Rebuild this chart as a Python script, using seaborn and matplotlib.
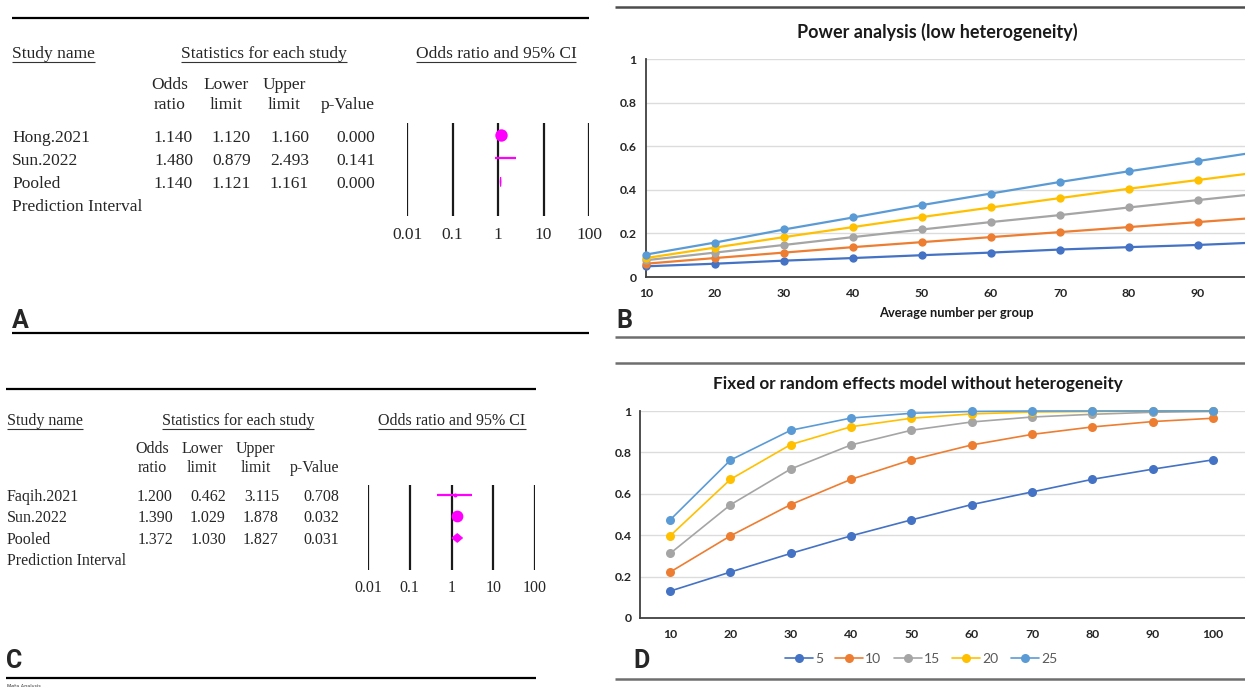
import numpy as np
import pandas as pd
import matplotlib
matplotlib.use("Agg")
import matplotlib.pyplot as plt
from matplotlib.lines import Line2D
import seaborn as sns

# ---------------- data ----------------
a_studies = ["Hong.2021", "Sun.2022", "Pooled"]
a_or = [1.140, 1.480, 1.140]
a_lower = [1.120, 0.879, 1.121]
a_upper = [1.160, 2.493, 1.161]
a_p = [0.000, 0.141, 0.000]
a_weight = [99.7, 0.3]

c_studies = ["Faqih.2021", "Sun.2022", "Pooled"]
c_or = [1.200, 1.390, 1.372]
c_lower = [0.462, 1.029, 1.030]
c_upper = [3.115, 1.878, 1.827]
c_p = [0.708, 0.032, 0.031]
c_weight = [10.4, 89.6]

forest_ticks = [0.01, 0.1, 1, 10, 100]
forest_tick_labels = ["0.01", "0.1", "1", "10", "100"]

n_per_group = [10, 20, 30, 40, 50, 60, 70, 80, 90, 100]
b_visible_ticks = [10, 20, 30, 40, 50, 60, 70, 80, 90]
series_labels = ["5", "10", "15", "20", "25"]

b_power_5 = [0.049, 0.061, 0.075, 0.087, 0.100, 0.112, 0.126, 0.137, 0.147, 0.160]
b_power_10 = [0.061, 0.087, 0.112, 0.137, 0.160, 0.183, 0.206, 0.229, 0.252, 0.275]
b_power_15 = [0.077, 0.112, 0.147, 0.183, 0.218, 0.252, 0.284, 0.319, 0.353, 0.386]
b_power_20 = [0.087, 0.135, 0.183, 0.229, 0.275, 0.319, 0.362, 0.405, 0.445, 0.485]
b_power_25 = [0.103, 0.158, 0.218, 0.273, 0.330, 0.383, 0.436, 0.485, 0.532, 0.580]

d_power_5 = [0.130, 0.222, 0.312, 0.397, 0.474, 0.548, 0.609, 0.670, 0.719, 0.764]
d_power_10 = [0.222, 0.397, 0.548, 0.670, 0.764, 0.836, 0.887, 0.923, 0.949, 0.965]
d_power_15 = [0.312, 0.547, 0.720, 0.836, 0.907, 0.947, 0.971, 0.984, 0.994, 0.998]
d_power_20 = [0.397, 0.670, 0.838, 0.924, 0.965, 0.986, 0.995, 0.998, 1.000, 1.000]
d_power_25 = [0.474, 0.763, 0.907, 0.966, 0.989, 0.998, 1.000, 1.000, 1.000, 1.000]

y_ticks = [0, 0.2, 0.4, 0.6, 0.8, 1]
y_tick_labels = ["0", "0.2", "0.4", "0.6", "0.8", "1"]

title_b = "Power analysis (low heterogeneity)"
xlabel_b = "Average number per group"
title_d = "Fixed or random effects model without heterogeneity"

# ---------------- setup ----------------
sns.set_style("white")
W, H = 1245, 687
fig = plt.figure(figsize=(W / 100, H / 100), dpi=100)
fig.patch.set_facecolor("white")

SERIF = "Liberation Serif"
CAL = "Lato"
LET = "Roboto"
colors = ["#4472C4", "#ED7D31", "#A5A5A5", "#FFC000", "#5B9BD5"]
palette = dict(zip(series_labels, colors))
MAG = "#FF00FF"


def fx(x):
    return x / W


def fy(y):
    return 1 - y / H


def axes_px(x0, y0, x1, y1):
    return fig.add_axes([x0 / W, 1 - y1 / H, (x1 - x0) / W, (y1 - y0) / H])


def hline(x0, x1, y, color="black", lw=1.6):
    fig.add_artist(Line2D([fx(x0), fx(x1)], [fy(y), fy(y)], transform=fig.transFigure,
                          color=color, lw=lw, solid_capstyle="butt"))


def txt(x, y, s, **kw):
    kw.setdefault("va", "baseline")
    return fig.text(fx(x), fy(y), s, **kw)


underline_jobs = []


# ---------------- forest panels ----------------
def forest_panel(studies, ors, lows, highs, ps, weights, fs, cfg):
    for key, ha in (("study", "left"), ("stats", "center"), ("ci", "center")):
        x, label = cfg[key]
        t = txt(x, cfg["hdr_y"], label, ha=ha, fontsize=fs, family=SERIF)
        underline_jobs.append((t, cfg["hdr_y"] + 3.5))
    cols = cfg["cols"]
    txt(cols[0][0], cfg["h1_y"], "Odds", ha="center", fontsize=fs, family=SERIF)
    txt(cols[0][0], cfg["h2_y"], "ratio", ha="center", fontsize=fs, family=SERIF)
    txt(cols[1][0], cfg["h1_y"], "Lower", ha="center", fontsize=fs, family=SERIF)
    txt(cols[1][0], cfg["h2_y"], "limit", ha="center", fontsize=fs, family=SERIF)
    txt(cols[2][0], cfg["h1_y"], "Upper", ha="center", fontsize=fs, family=SERIF)
    txt(cols[2][0], cfg["h2_y"], "limit", ha="center", fontsize=fs, family=SERIF)
    txt(cols[3][1], cfg["h2_y"], "p-Value", ha="right", fontsize=fs, family=SERIF)
    row_labels = studies + ["Prediction Interval"]
    for i, lab in enumerate(row_labels):
        yb = cfg["row_y"][i]
        txt(cfg["study"][0], yb, lab, ha="left", fontsize=fs, family=SERIF)
        if i < len(studies):
            vals = [ors[i], lows[i], highs[i], ps[i]]
            for (cx, rx), v in zip(cols, vals):
                txt(rx, yb, f"{v:.3f}", ha="right", fontsize=fs, family=SERIF)
    x0, x1, y0, y1 = cfg["plot"]
    ax = axes_px(x0, y0, x1, y1)
    ax.set_xscale("log")
    ax.set_xlim(forest_ticks[0], forest_ticks[-1])
    top, bot = cfg["ylim"]
    ax.set_ylim(bot, top)
    ax.vlines(forest_ticks, bot, top, color="#1a1a1a", lw=1.6)
    ax.axis("off")
    for i in range(len(studies)):
        if studies[i] == "Pooled":
            h = cfg["diamond_h"]
            ax.fill([lows[i], ors[i], highs[i], ors[i]], [i, i - h, i, i + h],
                    color=MAG, lw=0.8, ec=MAG, zorder=3)
        else:
            ax.plot([lows[i], highs[i]], [i, i], color=MAG, lw=1.6, zorder=3,
                    solid_capstyle="butt")
            ax.scatter([ors[i]], [i], s=weights[i] * cfg["msize"], color=MAG,
                       marker="o", lw=0, zorder=4)
    for tv, tl in zip(forest_ticks, forest_tick_labels):
        xpix = x0 + (np.log10(tv) + 2) / 4 * (x1 - x0)
        txt(xpix, cfg["tick_y"], tl, ha="center", fontsize=fs, family=SERIF)
    return ax


cfg_a = dict(
    study=(12, "Study name"), stats=(264, "Statistics for each study"),
    ci=(496, "Odds ratio and 95% CI"), hdr_y=58, h1_y=89, h2_y=109,
    cols=[(170, 193), (226, 251), (284, 309), (347, 375)],
    row_y=[142, 165, 188, 211], plot=(407, 589, 123, 216),
    ylim=(-0.515, 3.47), diamond_h=0.2, msize=0.8, tick_y=239)
forest_panel(a_studies, a_or, a_lower, a_upper, a_p, a_weight, 12.5, cfg_a)

cfg_c = dict(
    study=(7, "Study name"), stats=(238, "Statistics for each study"),
    ci=(452, "Odds ratio and 95% CI"), hdr_y=425, h1_y=453, h2_y=472,
    cols=[(152, 173), (202, 226), (256, 279), (315, 339)],
    row_y=[501, 522, 544, 565], plot=(368, 535, 485, 570),
    ylim=(-0.465, 3.49), diamond_h=0.2, msize=0.8, tick_y=592)
forest_panel(c_studies, c_or, c_lower, c_upper, c_p, c_weight, 11.5, cfg_c)

hline(12, 589, 18)
hline(12, 589, 333)
hline(6, 536, 389)
hline(6, 536, 678)
txt(7, 688, "Meta Analysis", ha="left", fontsize=3.5, family="DejaVu Sans", color="#333333")


# ---------------- power panels ----------------
def long_df(series):
    rows = []
    for lab, vals in zip(series_labels, series):
        for n, v in zip(n_per_group, vals):
            rows.append({"n": n, "power": v, "k": lab})
    return pd.DataFrame(rows)


def style_power_axes(ax, xticks, tick_pad_x, tick_pad_y):
    ax.set_ylim(0, 1)
    ax.set_yticks(y_ticks)
    ax.set_yticklabels(y_tick_labels, fontsize=8.8, fontweight="bold",
                       family=CAL, color="#262626")
    ax.set_xticks(xticks)
    ax.set_xticklabels([str(n) for n in xticks], fontsize=8.8,
                       fontweight="bold", family=CAL, color="#262626")
    ax.tick_params(axis="both", length=0)
    ax.tick_params(axis="x", pad=tick_pad_x)
    ax.tick_params(axis="y", pad=tick_pad_y)
    for s in ("top", "right"):
        ax.spines[s].set_visible(False)
    for s in ("left", "bottom"):
        ax.spines[s].set_color("#404040")
        ax.spines[s].set_linewidth(1.3)
    ax.set_xlabel("")
    ax.set_ylabel("")
    ax.grid(False)
    for yv in y_ticks[1:]:
        ax.axhline(yv, color="#dcdcdc", lw=1.0, zorder=0)
    ax.set_facecolor("white")


# Panel B (chart is cropped at the right edge of the figure)
axb = axes_px(646, 59, 1267, 277)
df_b = long_df([b_power_5, b_power_10, b_power_15, b_power_20, b_power_25])
sns.lineplot(data=df_b, x="n", y="power", hue="k", hue_order=series_labels,
             palette=palette, marker="o", markersize=6, markeredgewidth=0,
             lw=1.6, ax=axb, legend=False, clip_on=False, zorder=3)
axb.set_xlim(10, 100)
style_power_axes(axb, b_visible_ticks, 8, 7)
txt(937, 38, title_b, ha="center", fontsize=13, fontweight="bold", family=CAL, color="#1a1a1a")
txt(956, 317, xlabel_b, ha="center", fontsize=9.3, fontweight="bold", family=CAL, color="#1a1a1a")

# Panel D
axd = axes_px(640, 411, 1245, 618)
df_d = long_df([d_power_5, d_power_10, d_power_15, d_power_20, d_power_25])
sns.lineplot(data=df_d, x="n", y="power", hue="k", hue_order=series_labels,
             palette=palette, marker="o", markersize=6.5, markeredgewidth=0,
             lw=1.2, ax=axd, clip_on=False, zorder=3)
axd.set_xlim(5, 105.3)
handles, labels = axd.get_legend_handles_labels()
axd.get_legend().remove()
style_power_axes(axd, n_per_group, 8, 6)
leg = fig.legend(handles, labels, loc="center", bbox_to_anchor=(fx(921), fy(659)),
                 ncol=5, frameon=False, handlelength=2.0,
                 handletextpad=0.15, columnspacing=0.9,
                 prop={"family": CAL, "size": 10})
for t in leg.get_texts():
    t.set_color("#595959")
txt(918, 389, title_d, ha="center", fontsize=12.3, fontweight="bold", family=CAL, color="#1a1a1a")

hline(615, 1245, 7, color="#4d4d4d", lw=1.8)
hline(615, 1245, 337, color="#6e6e6e", lw=1.8)
hline(615, 1245, 363, color="#6e6e6e", lw=1.8)
hline(615, 1245, 679, color="#6e6e6e", lw=1.8)

# panel letters
for lx, ly, lt in ((12, 328, "A"), (616, 328, "B"), (6, 668, "C"), (633, 668, "D")):
    txt(lx, ly, lt, ha="left", fontsize=18, family=LET, fontweight="bold")

fig.canvas.draw()
r = fig.canvas.get_renderer()
for t, yline in underline_jobs:
    bb = t.get_window_extent(r)
    hline(bb.x0, bb.x1, yline, color="#333333", lw=0.8)

fig.savefig("out.png", dpi=100, facecolor="white")
